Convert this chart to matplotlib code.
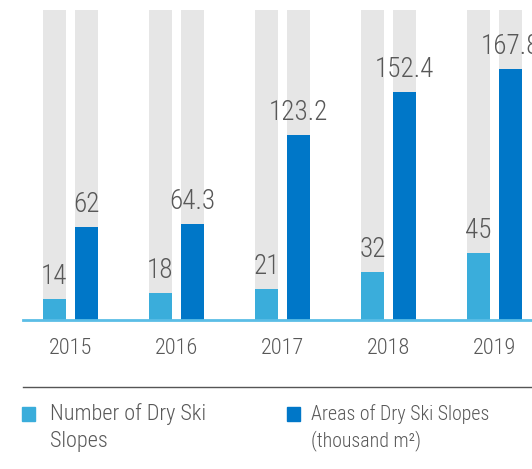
import numpy as np
import matplotlib.pyplot as plt
from matplotlib import font_manager

years = ["2015", "2016", "2017", "2018", "2019"]
number_slopes = [14, 18, 21, 32, 45]
area_slopes = [62, 64.3, 123.2, 152.4, 167.8]
area_labels = ["62", "64.3", "123.2", "152.4", "167.8"]
scale_max = 207

LIGHT = "#3aaddb"
DARK = "#0077c8"
GREY = "#e6e6e6"
TEXT = "#585858"

# condensed font if one is installed, else Roboto
names = {f.name for f in font_manager.fontManager.ttflist}
family = "DejaVu Sans"
for cand in ["Roboto Condensed", "Liberation Sans Narrow", "Open Sans Condensed",
             "DejaVu Sans Condensed", "Roboto"]:
    if cand in names:
        family = cand
        break
plt.rcParams["font.family"] = [family, "DejaVu Sans"]
light_weight = "light" if family.startswith("Roboto") else "normal"

W, H = 532, 469
fig = plt.figure(figsize=(W / 100, H / 100), dpi=100)
ax = fig.add_axes([23 / W, 1 - 320 / H, (W - 23) / W, 310 / H])

x = np.arange(len(years))
bw = 0.217
off = 0.151

ax.bar(x - off, [scale_max] * len(x), bw, color=GREY, zorder=1)
ax.bar(x + off, [scale_max] * len(x), bw, color=GREY, zorder=1)
ax.bar(x - off, number_slopes, bw, color=LIGHT, zorder=2)
ax.bar(x + off, area_slopes, bw, color=DARK, zorder=2)

for i in range(len(x)):
    ax.annotate(str(number_slopes[i]), (x[i] - off, number_slopes[i]),
                xytext=(0, 6.5), textcoords="offset points", ha="center",
                va="bottom", fontsize=19.5, color=TEXT, weight=light_weight,
                annotation_clip=False)
    ax.annotate(area_labels[i], (x[i] + off, area_slopes[i]),
                xytext=(0, 6.5), textcoords="offset points", ha="center",
                va="bottom", fontsize=19.5, color=TEXT, weight=light_weight,
                annotation_clip=False)

ax.set_xlim(-0.448, 4.354)
ax.set_ylim(0, scale_max)
for s in ["top", "right", "left"]:
    ax.spines[s].set_visible(False)
ax.spines["bottom"].set_color("#5bbde6")
ax.spines["bottom"].set_linewidth(2)
ax.set_yticks([])
ax.set_xticks(x)
ax.set_xticklabels(years, fontsize=16, color=TEXT, weight=light_weight)
ax.tick_params(axis="x", length=0, pad=13)

# legend area
fig.add_artist(plt.Line2D([23 / W, 1], [1 - 387 / H] * 2, color="#555555", lw=1))
fig.patches.append(plt.Rectangle((22 / W, 1 - 421 / H), 13 / W, 14 / H,
                                 color=LIGHT, transform=fig.transFigure))
fig.patches.append(plt.Rectangle((287 / W, 1 - 421 / H), 13 / W, 14 / H,
                                 color=DARK, transform=fig.transFigure))
fig.text(50 / W, 1 - 414 / H, "Number of Dry Ski", fontsize=16, color=TEXT,
         va="center", weight=light_weight)
fig.text(50 / W, 1 - 441 / H, "Slopes", fontsize=16, color=TEXT,
         va="center", weight=light_weight)
fig.text(311 / W, 1 - 414 / H, "Areas of Dry Ski Slopes", fontsize=14.3, color=TEXT,
         va="center", weight=light_weight)
fig.text(311 / W, 1 - 441 / H, "(thousand m²)", fontsize=14.3, color=TEXT,
         va="center", weight=light_weight)

fig.savefig("out.png", dpi=100)
